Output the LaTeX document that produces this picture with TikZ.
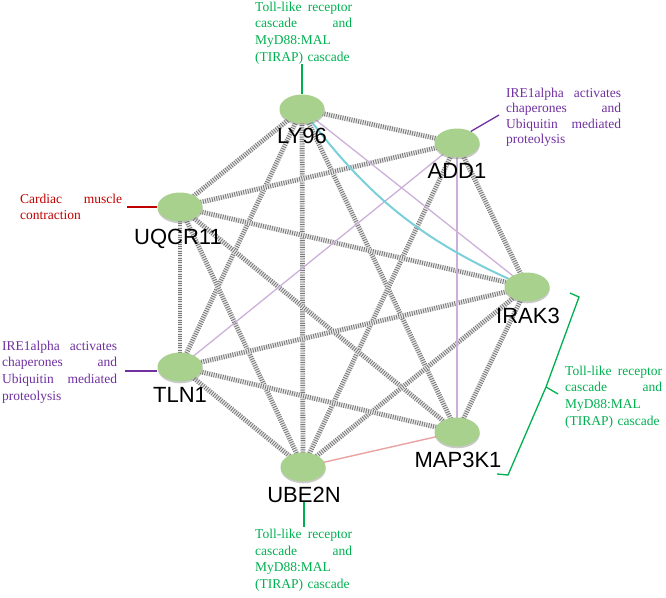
\documentclass[tikz,border=0pt]{standalone}
\usepackage{fontspec}
\setmainfont{Liberation Serif}
\newfontfamily\arialf{Liberation Sans}
\usetikzlibrary{shapes.geometric,shadows,backgrounds}
\definecolor{nodegreen}{HTML}{A9D18E}
\definecolor{annGreen}{HTML}{00B050}
\definecolor{annPurple}{HTML}{7030A0}
\definecolor{annRed}{HTML}{C00000}
\definecolor{edgePurple}{HTML}{CDB0DA}
\definecolor{edgeCyan}{HTML}{7ACFD8}
\definecolor{edgePink}{HTML}{E9A2A2}
\newcommand{\jl}[3]{\leavevmode\hbox to #1{#2\hfill #3}}
\begin{document}
\begin{tikzpicture}[x=1pt,y=-1pt,
  gene/.style={ellipse, fill=nodegreen, minimum width=45pt, minimum height=29pt, inner sep=0pt,
    drop shadow={shadow xshift=0.3pt, shadow yshift=-1.8pt, opacity=0.35, fill=black!60}},
  glabel/.style={font=\arialf\fontsize{22}{26}\selectfont, anchor=base, inner sep=0pt},
  annot/.style={anchor=north west, inner sep=0pt, align=left},
  hatch/.style={preaction={draw=black!8, solid, line width=4.8pt}, draw=black!52, line width=4.8pt, dash pattern=on 0.9pt off 1.4pt},
  pedge/.style={draw=edgePurple, line width=1.3pt},
  cedge/.style={draw=edgeCyan, line width=2pt},
  redge/.style={draw=edgePink, line width=1.4pt},
  conn/.style={line width=1.3pt}
]
\useasboundingbox (0,0) rectangle (666,597);

% genes
\node[gene] (ly) at (302,109) {};
\node[gene] (ad) at (457,143) {};
\node[gene] (uq) at (180,207) {};
\node[gene] (ir) at (527,287) {};
\node[gene] (tl) at (180,367) {};
\node[gene] (mp) at (457,432) {};
\node[gene] (ub) at (303,467) {};

% gene labels
\node[glabel] (lyl) at (302,143) {LY96};
\node[glabel] (adl) at (457,178) {ADD1};
\node[glabel] (uql) at (178,244) {UQCR11};
\node[glabel] (irl) at (528,323) {IRAK3};
\node[glabel] (tll) at (180,402) {TLN1};
\node[glabel] (mpl) at (458,467) {MAP3K1};
\node[glabel] (ubl) at (304,502) {UBE2N};

% annotations
\node[annot, text=annGreen, text width=97pt, font=\fontsize{13.5}{16.7}\selectfont] (lblT) at (255,-0.7)
  {\strut\jl{97pt}{Toll-like}{receptor}\\\jl{97pt}{cascade}{and}\\MyD88:MAL\\(TIRAP) cascade};
\node[annot, text=annPurple, text width=115pt, font=\fontsize{13.5}{15.5}\selectfont] (lblA) at (506,86.2)
  {\strut\jl{115pt}{IRE1alpha}{activates}\\\jl{115pt}{chaperones}{and}\\\jl{115pt}{Ubiquitin}{mediated}\\proteolysis};
\node[annot, text=annRed, text width=102pt, font=\fontsize{13.5}{16}\selectfont] (lblR) at (20,192.1)
  {\strut\jl{102pt}{Cardiac}{muscle}\\contraction};
\node[annot, text=annPurple, text width=115pt, font=\fontsize{13.5}{16.7}\selectfont] (lblL) at (2,338.3)
  {\strut\jl{115pt}{IRE1alpha}{activates}\\\jl{115pt}{chaperones}{and}\\\jl{115pt}{Ubiquitin}{mediated}\\proteolysis};
\node[annot, text=annGreen, text width=97pt, font=\fontsize{13.5}{16.7}\selectfont] (lblB) at (255,526.6)
  {\strut\jl{97pt}{Toll-like}{receptor}\\\jl{97pt}{cascade}{and}\\MyD88:MAL\\(TIRAP) cascade};
\node[annot, text=annGreen, text width=97pt, font=\fontsize{13.5}{16.7}\selectfont] (lblK) at (565,363.3)
  {\strut\jl{97pt}{Toll-like}{receptor}\\\jl{97pt}{cascade}{and}\\MyD88:MAL\\(TIRAP) cascade};

% annotation connectors
\coordinate (cA) at (499,115);
\coordinate (cR) at (127,207);
\coordinate (cL) at (125,371);
\draw[conn, annGreen] (ly.north) -- (ly.north |- lblT.south);
\draw[conn, annPurple] (ad.40) -- (cA);
\draw[conn, annRed] (cR) -- (uq.west);
\draw[conn, annPurple] (cL) -- (cL -| tl.west);
\draw[conn, annGreen] (ubl.base) -- (ubl.base |- lblB.north);

% bracket
\coordinate (k1) at (570,293);
\coordinate (k2) at (579,297);
\coordinate (kt) at (546,387);
\coordinate (kp) at (558,394);
\coordinate (k3) at (508,475);
\coordinate (k4) at (497,474);
\draw[conn, annGreen, line join=miter] (k1) -- (k2) -- (kt) -- (k3) -- (k4);
\draw[conn, annGreen] (kt) -- (kp);

% edges
\begin{scope}[on background layer]
\foreach \a/\b in {ly/ad, ly/uq, ly/tl, ly/ub, ly/mp, ad/uq, ad/ir, ad/ub, uq/ir, uq/tl, uq/mp, uq/ub, ir/tl, ir/mp, ir/ub, tl/mp, tl/ub}
  \draw[hatch] (\a.center) -- (\b.center);
\draw[pedge] (ly.center) -- (ir.center);
\draw[pedge] (ad.center) -- (tl.center);
\draw[pedge] (ad.center) -- (mp.center);
\draw[redge] (ub.center) -- (mp.center);
\draw[cedge] (ly.center) to[bend right=15] (ir.center);
\end{scope}
\end{tikzpicture}
\end{document}
